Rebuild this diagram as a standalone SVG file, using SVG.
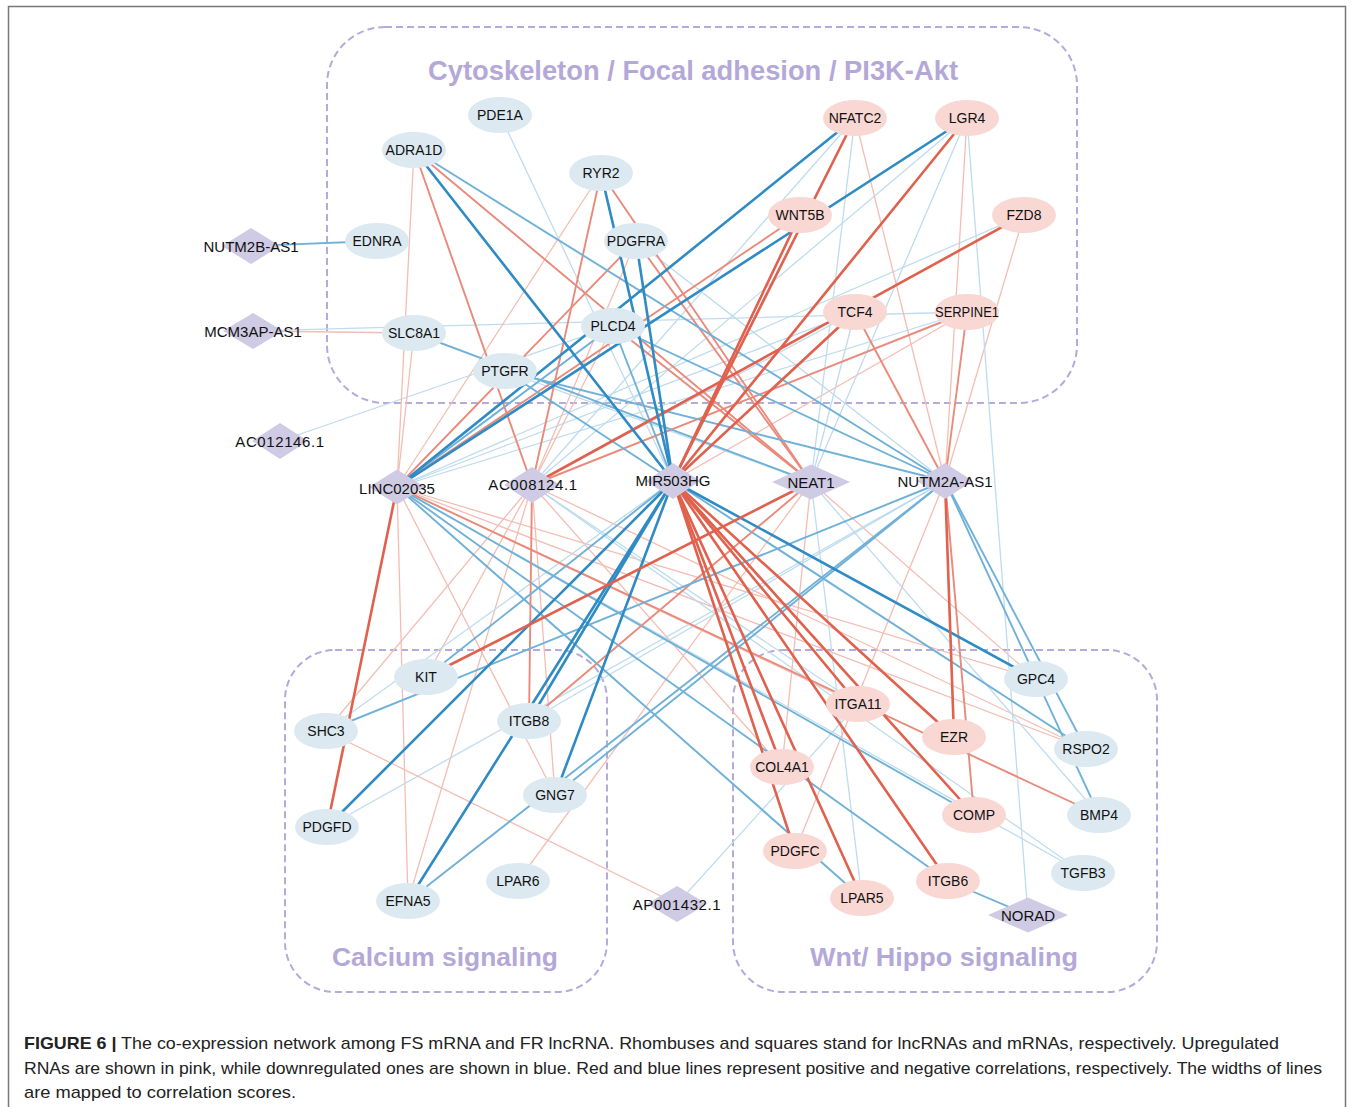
<svg xmlns="http://www.w3.org/2000/svg" width="1354" height="1107" viewBox="0 0 1354 1107">
<style>
.frame{fill:none;stroke:#777;stroke-width:1.5}
.box{fill:none;stroke:#b6a9db;stroke-width:2;stroke-dasharray:7 4}
.title{font-family:"Liberation Sans",Arial,sans-serif;font-weight:bold;fill:#b4a8d8;text-anchor:middle}
.m{stroke:none}
.mb{fill:#dce9f1}
.mp{fill:#f9d8d4}
.ln{fill:#cfcbe4}
.lbl{font-family:"Liberation Sans",Arial,sans-serif;font-size:14px;fill:#111;text-anchor:middle}
.llbl{font-family:"Liberation Sans",Arial,sans-serif;font-size:15px;fill:#111;text-anchor:middle}
.cap{font-family:"Liberation Sans",Arial,sans-serif;font-size:17px;fill:#222}
line{stroke-linecap:round}
.r1{stroke:#e0614d;stroke-width:2.6}
.r2{stroke:#e98a7b;stroke-width:1.9}
.r3{stroke:#f4bdb3;stroke-width:1.3}
.b1{stroke:#2f8bc4;stroke-width:2.6}
.b2{stroke:#6fb1d8;stroke-width:1.9}
.b3{stroke:#bedcee;stroke-width:1.3}
</style>
<rect class="frame" x="8.5" y="6.5" width="1337" height="1120"/>
<g id="groups">
<rect class="box" x="327" y="27" width="750" height="376" rx="58" ry="58"/>
<rect class="box" x="285" y="650" width="322" height="342" rx="50" ry="50"/>
<rect class="box" x="733" y="650" width="424" height="342" rx="50" ry="50"/>
<text class="title" x="693" y="80" font-size="27" textLength="530" lengthAdjust="spacingAndGlyphs">Cytoskeleton / Focal adhesion / PI3K-Akt</text>
<text class="title" x="445" y="966" font-size="26" textLength="226" lengthAdjust="spacingAndGlyphs">Calcium signaling</text>
<text class="title" x="944" y="966" font-size="26" textLength="268" lengthAdjust="spacingAndGlyphs">Wnt/ Hippo signaling</text>
</g>
<g id="connectors">
<!-- light -->
<line class="r3" x1="253" y1="331" x2="414" y2="333"/>
<line class="b3" x1="253" y1="331" x2="967" y2="312"/>
<line class="b3" x1="280" y1="441" x2="613" y2="326"/>
<line class="r3" x1="397" y1="487" x2="414" y2="150"/>
<line class="r3" x1="397" y1="487" x2="414" y2="333"/>
<line class="r3" x1="397" y1="487" x2="601" y2="173"/>
<line class="b3" x1="397" y1="487" x2="1024" y2="215"/>
<line class="b3" x1="397" y1="487" x2="855" y2="312"/>
<line class="b3" x1="397" y1="487" x2="967" y2="312"/>
<line class="r3" x1="397" y1="487" x2="408" y2="901"/>
<line class="r3" x1="397" y1="487" x2="555" y2="795"/>
<line class="b3" x1="397" y1="487" x2="1083" y2="873"/>
<line class="r3" x1="397" y1="487" x2="1036" y2="679"/>
<line class="r3" x1="397" y1="487" x2="1086" y2="749"/>
<line class="r3" x1="397" y1="487" x2="858" y2="704"/>
<line class="r3" x1="532" y1="485" x2="636" y2="241"/>
<line class="b3" x1="532" y1="485" x2="967" y2="118"/>
<line class="b3" x1="532" y1="485" x2="855" y2="118"/>
<line class="b3" x1="532" y1="485" x2="855" y2="312"/>
<line class="r3" x1="532" y1="485" x2="613" y2="326"/>
<line class="r3" x1="532" y1="485" x2="326" y2="731"/>
<line class="r3" x1="532" y1="485" x2="426" y2="677"/>
<line class="r3" x1="532" y1="485" x2="408" y2="901"/>
<line class="r3" x1="532" y1="485" x2="555" y2="795"/>
<line class="r3" x1="532" y1="485" x2="1086" y2="749"/>
<line class="b3" x1="532" y1="485" x2="1083" y2="873"/>
<line class="r3" x1="532" y1="485" x2="782" y2="767"/>
<line class="b3" x1="532" y1="485" x2="858" y2="704"/>
<line class="b3" x1="673" y1="481" x2="500" y2="115"/>
<line class="r3" x1="673" y1="481" x2="967" y2="312"/>
<line class="b3" x1="673" y1="481" x2="326" y2="731"/>
<line class="b3" x1="811" y1="482" x2="505" y2="371"/>
<line class="b3" x1="811" y1="482" x2="855" y2="118"/>
<line class="b3" x1="811" y1="482" x2="855" y2="312"/>
<line class="b3" x1="811" y1="482" x2="967" y2="118"/>
<line class="r3" x1="811" y1="482" x2="518" y2="881"/>
<line class="r3" x1="811" y1="482" x2="1036" y2="679"/>
<line class="b3" x1="811" y1="482" x2="1099" y2="815"/>
<line class="b3" x1="811" y1="482" x2="862" y2="898"/>
<line class="r3" x1="811" y1="482" x2="782" y2="767"/>
<line class="r3" x1="945" y1="481" x2="855" y2="118"/>
<line class="r3" x1="945" y1="481" x2="967" y2="118"/>
<line class="r3" x1="945" y1="481" x2="1024" y2="215"/>
<line class="b3" x1="945" y1="481" x2="636" y2="241"/>
<line class="b3" x1="945" y1="481" x2="327" y2="827"/>
<line class="b3" x1="945" y1="481" x2="529" y2="721"/>
<line class="r3" x1="945" y1="481" x2="795" y2="851"/>
<line class="r3" x1="677" y1="904" x2="326" y2="731"/>
<line class="b3" x1="677" y1="904" x2="858" y2="704"/>
<line class="b3" x1="1028" y1="915" x2="967" y2="118"/>
<!-- medium -->
<line class="b2" x1="251" y1="246" x2="377" y2="241"/>
<line class="r2" x1="397" y1="487" x2="636" y2="241"/>
<line class="b2" x1="397" y1="487" x2="613" y2="326"/>
<line class="r2" x1="397" y1="487" x2="800" y2="215"/>
<line class="b2" x1="397" y1="487" x2="948" y2="881"/>
<line class="b2" x1="397" y1="487" x2="974" y2="815"/>
<line class="b2" x1="397" y1="487" x2="862" y2="898"/>
<line class="r2" x1="397" y1="487" x2="1099" y2="815"/>
<line class="r2" x1="532" y1="485" x2="414" y2="150"/>
<line class="r2" x1="532" y1="485" x2="601" y2="173"/>
<line class="r2" x1="532" y1="485" x2="967" y2="312"/>
<line class="r2" x1="532" y1="485" x2="529" y2="721"/>
<line class="b2" x1="673" y1="481" x2="613" y2="326"/>
<line class="b2" x1="673" y1="481" x2="505" y2="371"/>
<line class="b2" x1="673" y1="481" x2="426" y2="677"/>
<line class="b2" x1="673" y1="481" x2="1086" y2="749"/>
<line class="r2" x1="811" y1="482" x2="414" y2="150"/>
<line class="r2" x1="811" y1="482" x2="601" y2="173"/>
<line class="r2" x1="811" y1="482" x2="636" y2="241"/>
<line class="r2" x1="811" y1="482" x2="613" y2="326"/>
<line class="b2" x1="811" y1="482" x2="414" y2="333"/>
<line class="r2" x1="811" y1="482" x2="529" y2="721"/>
<line class="b2" x1="945" y1="481" x2="414" y2="150"/>
<line class="b2" x1="945" y1="481" x2="505" y2="371"/>
<line class="b2" x1="945" y1="481" x2="613" y2="326"/>
<line class="r2" x1="945" y1="481" x2="967" y2="312"/>
<line class="r2" x1="945" y1="481" x2="855" y2="312"/>
<line class="b2" x1="945" y1="481" x2="326" y2="731"/>
<line class="b2" x1="945" y1="481" x2="408" y2="901"/>
<line class="b2" x1="945" y1="481" x2="555" y2="795"/>
<line class="r2" x1="945" y1="481" x2="974" y2="815"/>
<line class="b2" x1="945" y1="481" x2="1086" y2="749"/>
<line class="b2" x1="945" y1="481" x2="1099" y2="815"/>
<line class="b2" x1="1028" y1="915" x2="948" y2="881"/>
<!-- strong -->
<line class="b1" x1="397" y1="487" x2="855" y2="118"/>
<line class="b1" x1="397" y1="487" x2="967" y2="118"/>
<line class="r1" x1="397" y1="487" x2="327" y2="827"/>
<line class="r1" x1="532" y1="485" x2="1024" y2="215"/>
<line class="b1" x1="673" y1="481" x2="414" y2="150"/>
<line class="b1" x1="673" y1="481" x2="601" y2="173"/>
<line class="b1" x1="673" y1="481" x2="636" y2="241"/>
<line class="r1" x1="673" y1="481" x2="855" y2="118"/>
<line class="r1" x1="673" y1="481" x2="800" y2="215"/>
<line class="r1" x1="673" y1="481" x2="967" y2="118"/>
<line class="r1" x1="673" y1="481" x2="855" y2="312"/>
<line class="b1" x1="673" y1="481" x2="327" y2="827"/>
<line class="b1" x1="673" y1="481" x2="408" y2="901"/>
<line class="b1" x1="673" y1="481" x2="529" y2="721"/>
<line class="b1" x1="673" y1="481" x2="555" y2="795"/>
<line class="b1" x1="673" y1="481" x2="1036" y2="679"/>
<line class="r1" x1="673" y1="481" x2="858" y2="704"/>
<line class="r1" x1="673" y1="481" x2="974" y2="815"/>
<line class="r1" x1="673" y1="481" x2="782" y2="767"/>
<line class="r1" x1="673" y1="481" x2="795" y2="851"/>
<line class="r1" x1="673" y1="481" x2="862" y2="898"/>
<line class="r1" x1="673" y1="481" x2="948" y2="881"/>
<line class="r1" x1="673" y1="481" x2="954" y2="737"/>
<line class="r1" x1="811" y1="482" x2="426" y2="677"/>
<line class="r1" x1="945" y1="481" x2="954" y2="737"/>
</g>
<g id="n-PDE1A"><ellipse class="mb" cx="500" cy="115" rx="32" ry="18"/><text class="lbl" x="500" y="120">PDE1A</text></g>
<g id="n-ADRA1D"><ellipse class="mb" cx="414" cy="150" rx="32" ry="18"/><text class="lbl" x="414" y="155">ADRA1D</text></g>
<g id="n-RYR2"><ellipse class="mb" cx="601" cy="173" rx="32" ry="18"/><text class="lbl" x="601" y="178">RYR2</text></g>
<g id="n-EDNRA"><ellipse class="mb" cx="377" cy="241" rx="32" ry="18"/><text class="lbl" x="377" y="246">EDNRA</text></g>
<g id="n-PDGFRA"><ellipse class="mb" cx="636" cy="241" rx="32" ry="18"/><text class="lbl" x="636" y="246">PDGFRA</text></g>
<g id="n-SLC8A1"><ellipse class="mb" cx="414" cy="333" rx="32" ry="18"/><text class="lbl" x="414" y="338">SLC8A1</text></g>
<g id="n-PLCD4"><ellipse class="mb" cx="613" cy="326" rx="32" ry="18"/><text class="lbl" x="613" y="331">PLCD4</text></g>
<g id="n-PTGFR"><ellipse class="mb" cx="505" cy="371" rx="32" ry="18"/><text class="lbl" x="505" y="376">PTGFR</text></g>
<g id="n-NFATC2"><ellipse class="mp" cx="855" cy="118" rx="32" ry="18"/><text class="lbl" x="855" y="123">NFATC2</text></g>
<g id="n-LGR4"><ellipse class="mp" cx="967" cy="118" rx="32" ry="18"/><text class="lbl" x="967" y="123">LGR4</text></g>
<g id="n-WNT5B"><ellipse class="mp" cx="800" cy="215" rx="32" ry="18"/><text class="lbl" x="800" y="220">WNT5B</text></g>
<g id="n-FZD8"><ellipse class="mp" cx="1024" cy="215" rx="32" ry="18"/><text class="lbl" x="1024" y="220">FZD8</text></g>
<g id="n-TCF4"><ellipse class="mp" cx="855" cy="312" rx="32" ry="18"/><text class="lbl" x="855" y="317">TCF4</text></g>
<g id="n-SERPINE1"><ellipse class="mp" cx="967" cy="312" rx="32" ry="18"/><text class="lbl" x="967" y="317" textLength="64" lengthAdjust="spacingAndGlyphs">SERPINE1</text></g>
<g id="n-KIT"><ellipse class="mb" cx="426" cy="677" rx="32" ry="18"/><text class="lbl" x="426" y="682">KIT</text></g>
<g id="n-SHC3"><ellipse class="mb" cx="326" cy="731" rx="32" ry="18"/><text class="lbl" x="326" y="736">SHC3</text></g>
<g id="n-ITGB8"><ellipse class="mb" cx="529" cy="721" rx="32" ry="18"/><text class="lbl" x="529" y="726">ITGB8</text></g>
<g id="n-GNG7"><ellipse class="mb" cx="555" cy="795" rx="32" ry="18"/><text class="lbl" x="555" y="800">GNG7</text></g>
<g id="n-PDGFD"><ellipse class="mb" cx="327" cy="827" rx="32" ry="18"/><text class="lbl" x="327" y="832">PDGFD</text></g>
<g id="n-EFNA5"><ellipse class="mb" cx="408" cy="901" rx="32" ry="18"/><text class="lbl" x="408" y="906">EFNA5</text></g>
<g id="n-LPAR6"><ellipse class="mb" cx="518" cy="881" rx="32" ry="18"/><text class="lbl" x="518" y="886">LPAR6</text></g>
<g id="n-GPC4"><ellipse class="mb" cx="1036" cy="679" rx="32" ry="18"/><text class="lbl" x="1036" y="684">GPC4</text></g>
<g id="n-ITGA11"><ellipse class="mp" cx="858" cy="704" rx="32" ry="18"/><text class="lbl" x="858" y="709">ITGA11</text></g>
<g id="n-EZR"><ellipse class="mp" cx="954" cy="737" rx="32" ry="18"/><text class="lbl" x="954" y="742">EZR</text></g>
<g id="n-RSPO2"><ellipse class="mb" cx="1086" cy="749" rx="32" ry="18"/><text class="lbl" x="1086" y="754">RSPO2</text></g>
<g id="n-COL4A1"><ellipse class="mp" cx="782" cy="767" rx="32" ry="18"/><text class="lbl" x="782" y="772">COL4A1</text></g>
<g id="n-COMP"><ellipse class="mp" cx="974" cy="815" rx="32" ry="18"/><text class="lbl" x="974" y="820">COMP</text></g>
<g id="n-BMP4"><ellipse class="mb" cx="1099" cy="815" rx="32" ry="18"/><text class="lbl" x="1099" y="820">BMP4</text></g>
<g id="n-PDGFC"><ellipse class="mp" cx="795" cy="851" rx="32" ry="18"/><text class="lbl" x="795" y="856">PDGFC</text></g>
<g id="n-TGFB3"><ellipse class="mb" cx="1083" cy="873" rx="32" ry="18"/><text class="lbl" x="1083" y="878">TGFB3</text></g>
<g id="n-ITGB6"><ellipse class="mp" cx="948" cy="881" rx="32" ry="18"/><text class="lbl" x="948" y="886">ITGB6</text></g>
<g id="n-LPAR5"><ellipse class="mp" cx="862" cy="898" rx="32" ry="18"/><text class="lbl" x="862" y="903">LPAR5</text></g>
<g id="n-NUTM2B-AS1"><polygon class="ln" points="222,246 251,228 280,246 251,264"/><text class="llbl" x="251" y="252">NUTM2B-AS1</text></g>
<g id="n-MCM3AP-AS1"><polygon class="ln" points="223,331 253,313 283,331 253,349"/><text class="llbl" x="253" y="337">MCM3AP-AS1</text></g>
<g id="n-AC012146.1"><polygon class="ln" points="252,441 280,423 308,441 280,459"/><text class="llbl" x="280" y="447" letter-spacing="0.6">AC012146.1</text></g>
<g id="n-LINC02035"><polygon class="ln" points="369,487 397,469.5 425,487 397,504.5"/><text class="llbl" x="397" y="494">LINC02035</text></g>
<g id="n-AC008124.1"><polygon class="ln" points="504,485 532,467 560,485 532,503"/><text class="llbl" x="533" y="490" letter-spacing="0.6">AC008124.1</text></g>
<g id="n-MIR503HG"><polygon class="ln" points="646,481 673,463 700,481 673,499"/><text class="llbl" x="673" y="486">MIR503HG</text></g>
<g id="n-NEAT1"><polygon class="ln" points="772,482 811,464.5 850,482 811,499.5"/><text class="llbl" x="811" y="488">NEAT1</text></g>
<g id="n-NUTM2A-AS1"><polygon class="ln" points="917,481 945,463 973,481 945,499"/><text class="llbl" x="945" y="487">NUTM2A-AS1</text></g>
<g id="n-AP001432.1"><polygon class="ln" points="647,904 677,886 707,904 677,922"/><text class="llbl" x="677" y="910" letter-spacing="0.6">AP001432.1</text></g>
<g id="n-NORAD"><polygon class="ln" points="988,915 1028,897.5 1068,915 1028,932.5"/><text class="llbl" x="1028" y="921">NORAD</text></g>
<g id="caption">
<text class="cap" x="24" y="1049" textLength="1255" lengthAdjust="spacingAndGlyphs"><tspan font-weight="bold">FIGURE 6 |</tspan> The co-expression network among FS mRNA and FR lncRNA. Rhombuses and squares stand for lncRNAs and mRNAs, respectively. Upregulated</text>
<text class="cap" x="24" y="1074" textLength="1298" lengthAdjust="spacingAndGlyphs">RNAs are shown in pink, while downregulated ones are shown in blue. Red and blue lines represent positive and negative correlations, respectively. The widths of lines</text>
<text class="cap" x="24" y="1098" textLength="272" lengthAdjust="spacingAndGlyphs">are mapped to correlation scores.</text>
</g>
</svg>
